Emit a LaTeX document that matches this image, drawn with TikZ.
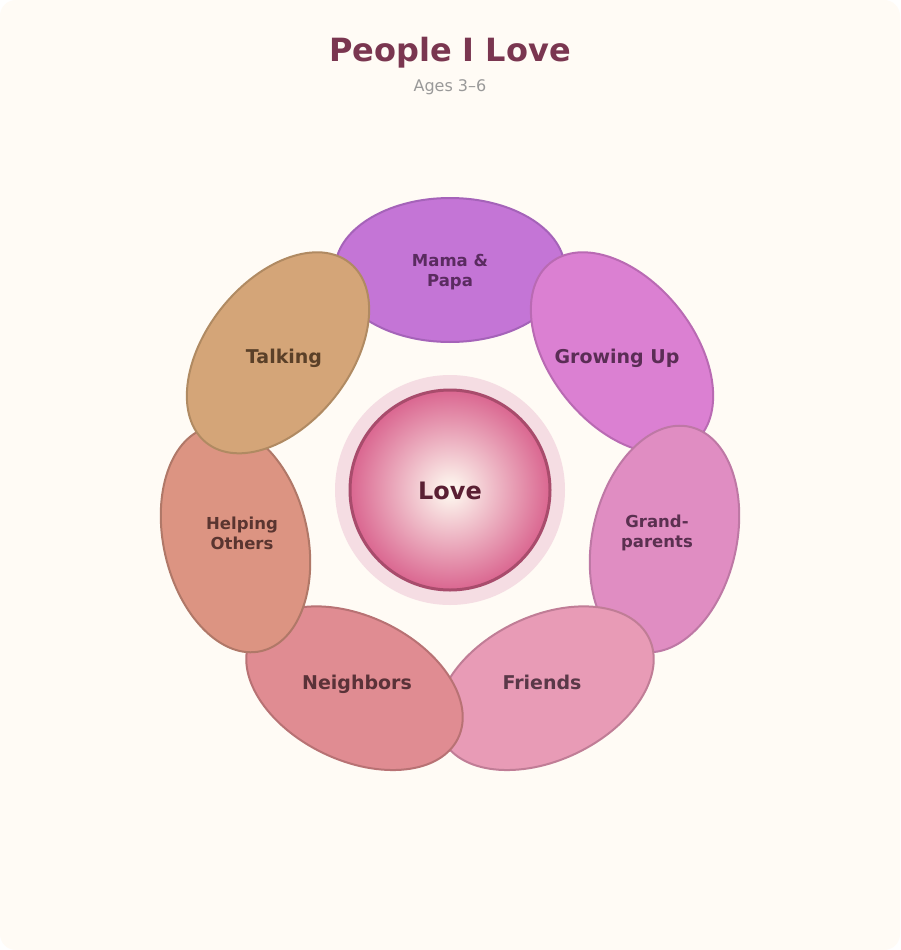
\documentclass[tikz,border=0pt]{standalone}
\usepackage{fontspec}
\setmainfont{DejaVu Sans}
\usetikzlibrary{shapes.geometric}
\definecolor{bgcream}{HTML}{FFFBF5}
\definecolor{titlec}{HTML}{7A3650}
\definecolor{subc}{HTML}{999999}
\definecolor{haloc}{HTML}{F5DDE3}
\definecolor{loveborder}{HTML}{A84C6C}
\definecolor{loveout}{HTML}{DA6690}
\definecolor{lovein}{HTML}{FDF6EE}
\definecolor{lovetext}{HTML}{5A1F33}
\definecolor{fA}{HTML}{C475D6}\definecolor{dA}{HTML}{A563B9}\definecolor{tA}{HTML}{5A2B60}
\definecolor{fB}{HTML}{DB80D2}\definecolor{dB}{HTML}{B96AB3}\definecolor{tB}{HTML}{5A2D55}
\definecolor{fC}{HTML}{E08DC2}\definecolor{dC}{HTML}{BE78A5}\definecolor{tC}{HTML}{5A3050}
\definecolor{fD}{HTML}{E89BB6}\definecolor{dD}{HTML}{C07D96}\definecolor{tD}{HTML}{5A3848}
\definecolor{fE}{HTML}{E08C92}\definecolor{dE}{HTML}{B87274}\definecolor{tE}{HTML}{5A3238}
\definecolor{fF}{HTML}{DC9482}\definecolor{dF}{HTML}{B07868}\definecolor{tF}{HTML}{5A3530}
\definecolor{fG}{HTML}{D4A578}\definecolor{dG}{HTML}{B08A62}\definecolor{tG}{HTML}{5A4028}
\pgfdeclareradialshading{loveshade}{\pgfpoint{0bp}{0bp}}{color(0bp)=(lovein); color(1bp)=(lovein); color(25bp)=(loveout); color(50bp)=(loveout)}
\tikzset{
  petal/.style={ellipse, minimum width=230pt, minimum height=144pt, inner sep=0pt, line width=2pt},
  petaltext/.style={font=\bfseries\fontsize{19}{21}\selectfont, align=center, inner sep=0pt},
  petalsmall/.style={font=\bfseries\fontsize{16.5}{20}\selectfont, align=center, inner sep=0pt},
}
\begin{document}
\begin{tikzpicture}[x=1pt,y=-1pt]
\useasboundingbox (0,0) rectangle (900,950);
\fill[white] (0,0) rectangle (900,950);
\fill[bgcream, rounded corners=16pt] (0,0) rectangle (900,950);
\node[font=\bfseries\fontsize{32}{36}\selectfont, text=titlec] (title) at (450,52.5) {People I Love};
\node[font=\fontsize{16}{18}\selectfont, text=subc] (subtitle) at (450,87) {Ages 3–6};
% petals
\node[petal, fill=fA, draw=dA, rotate=0] (p0) at (450,270) {};
\node[petal, fill=fB, draw=dB, rotate=-51.43] (p1) at (622,352.8) {};
\node[petal, fill=fC, draw=dC, rotate=-102.86] (p2) at (664.5,539) {};
\node[petal, fill=fD, draw=dD, rotate=-154.29] (p3) at (545.5,688.2) {};
\node[petal, fill=fE, draw=dE, rotate=-205.71] (p4) at (354.5,688.2) {};
\node[petal, fill=fF, draw=dF, rotate=-257.14] (p5) at (235.5,539) {};
\node[petal, fill=fG, draw=dG, rotate=-308.57] (p6) at (278,352.8) {};
\node[petalsmall, text=tA] (t0) at (450,272) {Mama \&\\Papa};
\node[petaltext, text=tB] (t1) at (617,358) {Growing Up};
\node[petalsmall, text=tC] (t2) at (657,533) {Grand-\\parents};
\node[petaltext, text=tD] (t3) at (542,682.5) {Friends};
\node[petaltext, text=tE] (t4) at (357,684) {Neighbors};
\node[petalsmall, text=tF] (t5) at (242,533) {Helping\\Others};
\node[petaltext, text=tG] (t6) at (284,358) {Talking};
% center
\fill[haloc] (450,490) circle [radius=115];
\shade[shading=loveshade] (450,490) circle [radius=100];
\draw[loveborder, line width=3pt] (450,490) circle [radius=100];
\node[font=\bfseries\fontsize{24}{28}\selectfont, text=lovetext] (love) at (450,491) {Love};
\end{tikzpicture}
\end{document}
